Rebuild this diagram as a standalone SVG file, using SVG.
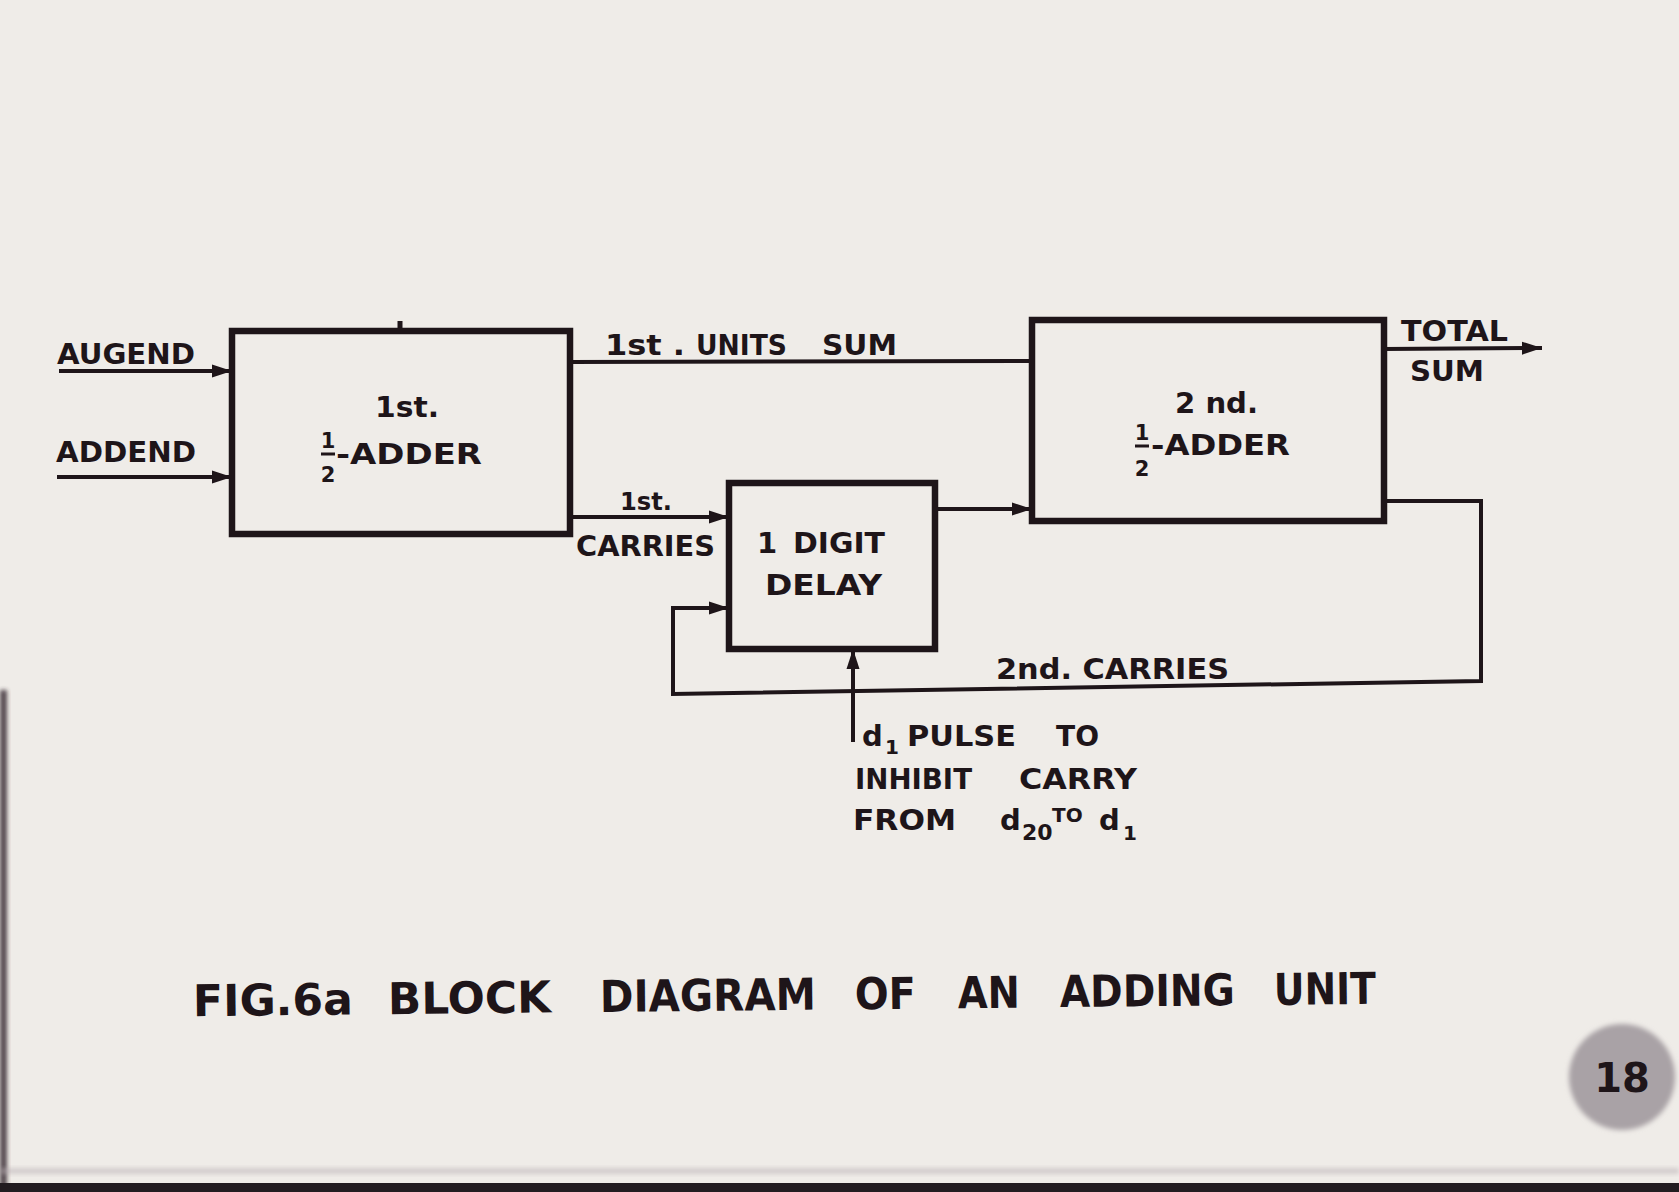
<svg xmlns="http://www.w3.org/2000/svg" width="1679" height="1192" viewBox="0 0 1679 1192">
<style>
  .t { font-family: "DejaVu Sans", "Liberation Sans", sans-serif; font-weight: bold; fill: #1e1519; font-size: 29px; }
  .s { font-size: 21px; }
  .cap { font-size: 44px; }
  .box { fill: none; stroke: #1e1519; stroke-width: 6.5; stroke-linejoin: miter; }
  .wire { fill: none; stroke: #1e1519; stroke-width: 4; stroke-linejoin: miter; }
</style>
<defs>
  <marker id="arr" markerUnits="userSpaceOnUse" markerWidth="22" markerHeight="16" refX="20" refY="8" orient="auto">
    <path d="M0,1.5 L20,8 L0,14.5 z" fill="#1e1519"/>
  </marker>
  <filter id="blur" x="-20%" y="-20%" width="140%" height="140%">
    <feGaussianBlur stdDeviation="2.5"/>
  </filter>
  <filter id="soft" x="-50%" y="-50%" width="200%" height="200%">
    <feGaussianBlur stdDeviation="2"/>
  </filter>
</defs>

<rect x="0" y="0" width="1679" height="1192" fill="#efece8"/>
<!-- photo edges -->
<rect x="0" y="690" width="7" height="502" fill="#3a2d35" filter="url(#soft)" opacity="0.85"/>
<rect x="0" y="1168" width="1679" height="6" fill="#b9aeb3" opacity="0.5" filter="url(#soft)"/>
<rect x="0" y="1183" width="1679" height="9" fill="#221c20"/>

<!-- page number disc -->
<g id="page-number">
  <circle cx="1622" cy="1077" r="53" fill="#a9a2a6" filter="url(#blur)"/>
  <text class="t" x="1622" y="1092" style="font-size:40px" text-anchor="middle">18</text>
</g>

<!-- connectors -->
<g id="connectors">
  <line class="wire" x1="59" y1="371" x2="232" y2="371" marker-end="url(#arr)"/>
  <line class="wire" x1="57" y1="477" x2="232" y2="477" marker-end="url(#arr)"/>
  <line class="wire" x1="570" y1="362" x2="1032" y2="361"/>
  <line class="wire" x1="570" y1="517" x2="729" y2="517" marker-end="url(#arr)"/>
  <line class="wire" x1="935" y1="509" x2="1032" y2="509" marker-end="url(#arr)"/>
  <polyline class="wire" points="1384,501 1481,501 1481,681 673,694 673,608 729,608" marker-end="url(#arr)"/>
  <line class="wire" x1="853" y1="742" x2="853" y2="649" marker-end="url(#arr)"/>
  <line class="wire" x1="1384" y1="349" x2="1542" y2="348" marker-end="url(#arr)"/>
  <line x1="400" y1="321" x2="400" y2="331" stroke="#1e1519" stroke-width="5"/>
</g>

<!-- labels on connectors -->
<g id="labels">
  <text class="t" x="57" y="364" textLength="138" lengthAdjust="spacingAndGlyphs">AUGEND</text>
  <text class="t" x="56" y="462" textLength="140" lengthAdjust="spacingAndGlyphs">ADDEND</text>
  <text class="t" y="355"><tspan x="605" textLength="80" lengthAdjust="spacingAndGlyphs">1st .</tspan><tspan x="696" textLength="91" lengthAdjust="spacingAndGlyphs">UNITS</tspan><tspan x="822" textLength="75" lengthAdjust="spacingAndGlyphs">SUM</tspan></text>
  <text class="t" x="620" y="510" style="font-size:25px" textLength="52" lengthAdjust="spacingAndGlyphs">1st.</text>
  <text class="t" x="576" y="556" textLength="139" lengthAdjust="spacingAndGlyphs">CARRIES</text>
  <text class="t" x="1401" y="341" textLength="107" lengthAdjust="spacingAndGlyphs">TOTAL</text>
  <text class="t" x="1410" y="381" textLength="74" lengthAdjust="spacingAndGlyphs">SUM</text>
  <text class="t" x="996" y="679" textLength="233" lengthAdjust="spacingAndGlyphs">2nd. CARRIES</text>
  <text class="t" y="746"><tspan x="862">d</tspan><tspan x="885" dy="8" font-size="20">1</tspan><tspan x="907" dy="-8" textLength="109" lengthAdjust="spacingAndGlyphs">PULSE</tspan><tspan x="1056" textLength="43" lengthAdjust="spacingAndGlyphs">TO</tspan></text>
  <text class="t" y="789"><tspan x="855" textLength="117" lengthAdjust="spacingAndGlyphs">INHIBIT</tspan><tspan x="1019" textLength="118" lengthAdjust="spacingAndGlyphs">CARRY</tspan></text>
  <text class="t" y="830"><tspan x="853" textLength="103" lengthAdjust="spacingAndGlyphs">FROM</tspan><tspan x="1000">d</tspan><tspan x="1022" dy="10" font-size="22">20</tspan><tspan x="1052" dy="-18" font-size="20">TO</tspan><tspan x="1099" dy="8">d</tspan><tspan x="1123" dy="10" font-size="20">1</tspan></text>
</g>

<!-- nodes -->
<g id="half-adder-1">
  <rect class="box" x="232" y="331" width="338" height="203"/>
  <text class="t" x="375" y="417" textLength="64" lengthAdjust="spacingAndGlyphs">1st.</text>
  <text class="t s" x="328" y="448" text-anchor="middle">1</text>
  <line x1="321" y1="454" x2="335" y2="454" stroke="#1e1519" stroke-width="3"/>
  <text class="t s" x="328" y="482" text-anchor="middle">2</text>
  <text class="t" x="336" y="464" textLength="146" lengthAdjust="spacingAndGlyphs">-ADDER</text>
</g>

<g id="half-adder-2">
  <rect class="box" x="1032" y="320" width="352" height="201"/>
  <text class="t" x="1175" y="413" textLength="83" lengthAdjust="spacingAndGlyphs">2 nd.</text>
  <text class="t s" x="1142" y="440" text-anchor="middle">1</text>
  <line x1="1135" y1="446" x2="1149" y2="446" stroke="#1e1519" stroke-width="3"/>
  <text class="t s" x="1142" y="476" text-anchor="middle">2</text>
  <text class="t" x="1151" y="455" textLength="139" lengthAdjust="spacingAndGlyphs">-ADDER</text>
</g>

<g id="digit-delay">
  <rect class="box" x="729" y="483" width="206" height="166"/>
  <text class="t" y="553"><tspan x="757">1</tspan><tspan x="793" textLength="92" lengthAdjust="spacingAndGlyphs">DIGIT</tspan></text>
  <text class="t" x="765" y="595" textLength="117" lengthAdjust="spacingAndGlyphs">DELAY</text>
</g>

<!-- caption -->
<g id="caption" transform="rotate(-0.6 785 1005)">
  <text class="t cap" y="1010"><tspan x="193" textLength="160" lengthAdjust="spacingAndGlyphs">FIG.6a</tspan><tspan x="388" textLength="163" lengthAdjust="spacingAndGlyphs">BLOCK</tspan><tspan x="600" textLength="216" lengthAdjust="spacingAndGlyphs">DIAGRAM</tspan><tspan x="855" textLength="61" lengthAdjust="spacingAndGlyphs">OF</tspan><tspan x="958" textLength="62" lengthAdjust="spacingAndGlyphs">AN</tspan><tspan x="1060" textLength="175" lengthAdjust="spacingAndGlyphs">ADDING</tspan><tspan x="1274" textLength="102" lengthAdjust="spacingAndGlyphs">UNIT</tspan></text>
</g>
</svg>
